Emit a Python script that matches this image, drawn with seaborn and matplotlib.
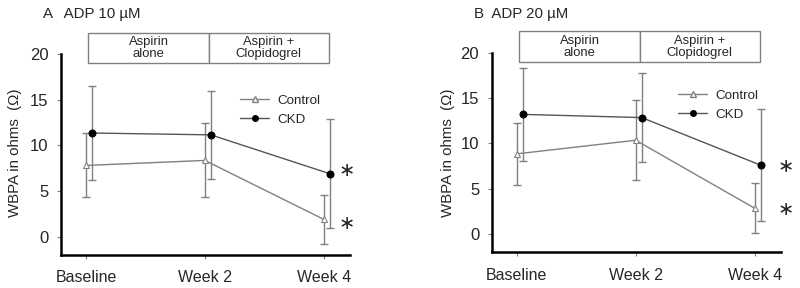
import numpy as np
import pandas as pd
import matplotlib
matplotlib.use('Agg')
import matplotlib.pyplot as plt
from matplotlib.lines import Line2D
from matplotlib.patches import Rectangle
import seaborn as sns

# Data
weeks = ['Baseline', 'Week 2', 'Week 4']
groups = ['Control', 'CKD']

a_control_mean = [7.8, 8.35, 1.9]
a_control_sd = [3.5, 4.05, 2.7]
a_ckd_mean = [11.35, 11.15, 6.9]
a_ckd_sd = [5.15, 4.8, 5.95]

b_control_mean = [8.85, 10.35, 2.85]
b_control_sd = [3.45, 4.4, 2.77]
b_ckd_mean = [13.2, 12.85, 7.6]
b_ckd_sd = [5.1, 4.9, 6.2]

panel_titles = ['A   ADP 10 µM', 'B  ADP 20 µM']
phases = ['Aspirin\nalone', 'Aspirin +\nClopidogrel']
ylabel = 'WBPA in ohms  (Ω)'

sns.set_style('ticks')
plt.rcParams['font.family'] = ['Liberation Sans', 'DejaVu Sans']

fig = plt.figure(figsize=(8, 2.88), dpi=100)
ax_a = fig.add_axes([0.07625, 0.1146, 0.3612, 0.6979])
ax_b = fig.add_axes([0.6146, 0.124, 0.3616, 0.693])

panels = [
    (ax_a, a_control_mean, a_control_sd, a_ckd_mean, a_ckd_sd, (0.62, 0.80), [7.3, 1.4], 2.19),
    (ax_b, b_control_mean, b_control_sd, b_ckd_mean, b_ckd_sd, (0.644, 0.815), [7.46, 2.74], 2.26),
]

x = np.arange(len(weeks))
off = 0.05
gray = '#808080'

for ax, cm, cs, km, ks, leg_pos, star_y, star_x in panels:
    df = pd.DataFrame({
        'x': np.concatenate([x, x + off]),
        'val': cm + km,
        'group': ['Control'] * 3 + ['CKD'] * 3,
    })
    ax.errorbar(x, cm, yerr=cs, fmt='none', ecolor=gray, elinewidth=1, capsize=3, capthick=1, zorder=1)
    ax.errorbar(x + off, km, yerr=ks, fmt='none', ecolor=gray, elinewidth=1, capsize=3, capthick=1, zorder=1)
    sns.lineplot(data=df[df.group == 'Control'], x='x', y='val', ax=ax, color=gray, lw=1,
                 marker='^', markersize=5, markerfacecolor='white', markeredgecolor=gray,
                 markeredgewidth=0.8, zorder=3, legend=False)
    sns.lineplot(data=df[df.group == 'CKD'], x='x', y='val', ax=ax, color='#555555', lw=1,
                 marker='o', markersize=5, markerfacecolor='black', markeredgecolor='black',
                 zorder=3, legend=False)

    ax.set_xlim(-0.21, 2.22)
    ax.set_ylim(-2, 20)
    ax.set_xticks(x)
    ax.set_xticklabels(weeks, fontsize=11.5)
    ax.set_yticks([0, 5, 10, 15, 20])
    ax.tick_params(axis='y', labelsize=12, length=3, color=gray, pad=6)
    ax.tick_params(axis='x', length=3, color=gray, pad=8)
    ax.set_xlabel('')
    ax.set_ylabel('')
    ax.spines['right'].set_visible(False)
    ax.spines['top'].set_visible(False)
    ax.spines['left'].set_bounds(-2, 20)
    for s in ['left', 'bottom']:
        ax.spines[s].set_linewidth(1.8)
        ax.spines[s].set_color('black')

    # treatment boxes
    edges = [0.02, 1.035, 2.04]
    for i, ph in enumerate(phases):
        r = Rectangle((edges[i], 19.0), edges[i + 1] - edges[i], 3.35, fill=True, facecolor='white',
                      edgecolor=gray, lw=1, clip_on=False, zorder=5)
        ax.add_patch(r)
        ax.text((edges[i] + edges[i + 1]) / 2, 20.65, ph, ha='center', va='center',
                fontsize=9.4, linespacing=1.05, zorder=6, clip_on=False)

    handles = [
        Line2D([], [], color=gray, lw=1, marker='^', markersize=4, markerfacecolor='white',
               markeredgecolor=gray),
        Line2D([], [], color='#555555', lw=1, marker='o', markersize=4, markerfacecolor='black',
               markeredgecolor='black'),
    ]
    ax.legend(handles, groups, loc='upper left', bbox_to_anchor=leg_pos, frameon=False,
              fontsize=9.6, borderpad=0, borderaxespad=0, handlelength=2.2,
              handletextpad=0.6, labelspacing=0.5)

    for sy in star_y:
        ax.text(star_x, sy, '∗', family='DejaVu Sans', fontsize=14, ha='center', va='center',
                color='#222222', clip_on=False)

fig.text(0.054, 0.951, panel_titles[0], fontsize=10.8, ha='left', va='center')
fig.text(0.5925, 0.951, panel_titles[1], fontsize=10.8, ha='left', va='center')
fig.text(0.019, 0.469, ylabel, fontsize=10.8, rotation=90, ha='center', va='center')
fig.text(0.56, 0.47, ylabel, fontsize=10.8, rotation=90, ha='center', va='center')

fig.savefig('out.png', dpi=100)
